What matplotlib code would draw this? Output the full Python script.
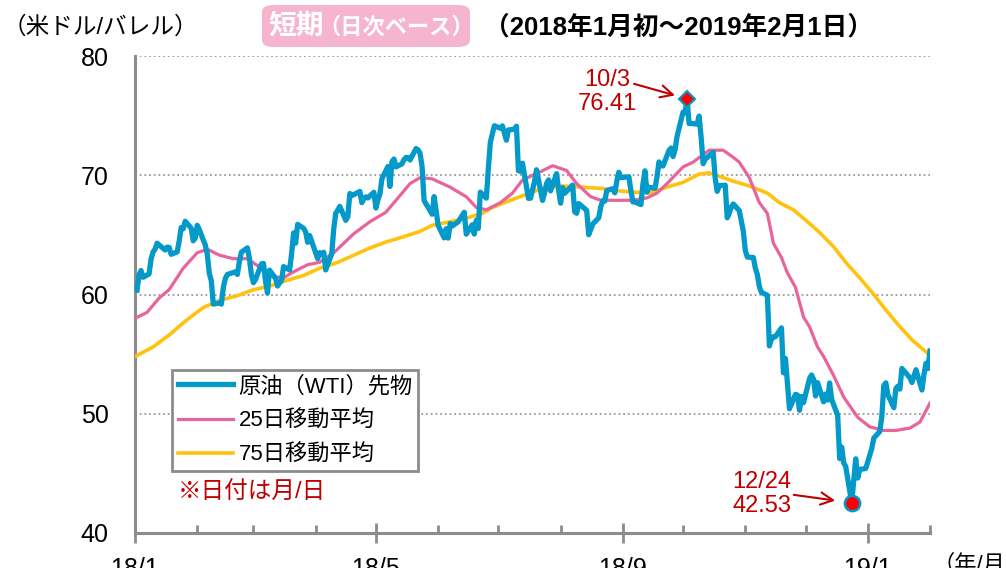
import matplotlib.pyplot as plt
import matplotlib.dates as mdates
from matplotlib.patches import FancyBboxPatch
from matplotlib.ticker import FuncFormatter
import pandas as pd

plt.rcParams['font.family'] = ['Liberation Sans', 'Noto Sans CJK JP']

# NYMEX trading days, Jan 2018 - Feb 1 2019
holidays = ["2018-01-15", "2018-02-19", "2018-03-30", "2018-05-28", "2018-07-04",
            "2018-09-03", "2018-11-22", "2018-12-25", "2019-01-01", "2019-01-21"]
wti_dates = pd.bdate_range("2018-01-02", "2019-02-01", freq="C", holidays=holidays)

wti = [
    # 2018/1
    60.37, 61.63, 62.01, 61.44, 61.73, 62.96, 63.57, 63.80, 64.30, 63.73, 63.97,
    63.95, 63.37, 63.57, 64.47, 65.61, 65.51, 66.14, 65.56, 64.50, 64.73,
    # 2018/2
    65.80, 65.45, 64.15, 63.39, 61.79, 61.15, 59.20, 59.29, 59.19, 60.60, 61.34,
    61.68, 61.90, 61.68, 62.77, 63.55, 63.91, 63.01, 61.64,
    # 2018/3
    60.99, 61.25, 62.57, 62.60, 61.15, 60.12, 62.04, 61.36, 60.71, 60.96, 61.19,
    62.34, 62.06, 63.40, 65.17, 64.30, 65.88, 65.55, 65.25, 64.38, 64.94,
    # 2018/4
    63.01, 63.51, 63.37, 63.54, 62.06, 63.42, 65.51, 66.82, 67.07, 67.39, 66.22,
    66.52, 68.47, 68.29, 68.38, 68.64, 67.70, 68.05, 68.19, 68.10, 68.57,
    # 2018/5
    67.25, 67.93, 68.43, 69.72, 70.73, 69.06, 71.14, 71.36, 70.70, 70.96, 71.31,
    71.49, 71.49, 71.28, 72.24, 72.13, 71.84, 70.71, 67.88, 66.73, 68.21, 67.04,
    # 2018/6
    65.81, 64.75, 65.52, 64.73, 65.95, 65.74, 66.10, 66.36, 66.64, 66.89, 65.06,
    65.85, 65.07, 66.22, 65.54, 68.58, 68.08, 70.53, 72.76, 73.45, 74.15,
    # 2018/7
    73.94, 74.14, 72.94, 73.80, 73.85, 74.11, 70.38, 70.33, 71.01, 68.06, 68.08,
    68.76, 69.46, 70.46, 67.89, 68.52, 69.30, 69.61, 68.69, 70.13, 68.76,
    # 2018/8
    67.66, 68.96, 68.49, 69.01, 69.17, 66.94, 66.81, 67.63, 67.20, 67.04, 65.01,
    65.46, 65.91, 66.43, 67.35, 67.86, 67.83, 68.72, 68.87, 68.53, 69.51, 70.25, 69.80,
    # 2018/9
    69.87, 68.72, 67.77, 67.75, 67.54, 69.25, 70.37, 68.59, 68.99, 68.91, 69.85,
    71.12, 70.80, 70.78, 72.08, 72.28, 71.57, 72.12, 73.25,
    # 2018/10
    75.30, 75.23, 76.41, 74.33, 74.34, 74.29, 74.96, 73.17, 70.97, 71.34, 71.78,
    71.92, 69.75, 68.65, 69.12, 69.17, 66.43, 66.82, 67.33, 67.59, 67.04, 66.18, 65.31,
    # 2018/11
    63.69, 63.14, 63.10, 62.21, 61.67, 60.67, 60.19, 59.93, 55.69, 56.25, 56.46,
    56.46, 57.20, 53.43, 54.63, 50.42, 51.63, 51.56, 50.29, 51.45, 50.93,
    # 2018/12
    52.95, 53.25, 52.89, 51.49, 52.61, 51.00, 51.65, 51.15, 52.58, 51.20, 49.88,
    46.24, 47.20, 45.88, 45.59, 42.53, 46.22, 44.61, 45.33, 45.41,
    # 2019/1 - 2/1
    46.54, 47.09, 47.96, 48.52, 49.78, 52.36, 52.59, 51.59, 50.51, 52.11, 52.31,
    52.07, 53.80, 53.01, 52.62, 53.13, 53.69, 51.99, 53.31, 54.23, 53.79, 55.26,
]
assert len(wti) == len(wti_dates)

# moving averages, sampled by days since 2018-01-01
ma25_day = [0, 6, 12, 17, 24, 31, 36, 42, 49, 56, 62, 69, 74, 79, 86, 92, 99, 109,
            117, 125, 132, 137, 142, 148, 157, 165, 170, 175, 182, 188, 193, 202,
            208, 215, 220, 227, 232, 240, 248, 255, 260, 265, 273, 278, 286, 293,
            298, 301, 306, 311, 315, 318, 322, 325, 329, 333, 336, 340, 343, 348,
            353, 360, 366, 373, 379, 386, 391, 396]
ma25 = [58.0, 58.5, 59.7, 60.4, 62.2, 63.5, 63.8, 63.3, 63.0, 63.0, 62.3, 61.5,
        61.4, 61.9, 62.5, 62.7, 63.5, 65.1, 66.1, 66.9, 68.3, 69.3, 69.8, 69.7,
        69.0, 68.2, 67.3, 67.1, 67.7, 68.5, 69.6, 70.3, 70.8, 70.4, 69.3, 68.2,
        67.9, 67.9, 67.9, 68.1, 68.5, 69.3, 70.7, 71.1, 72.1, 72.1, 71.5, 71.1,
        69.8, 67.7, 66.8, 64.3, 63.1, 61.8, 60.6, 58.1, 57.3, 55.6, 54.8, 53.2,
        51.4, 49.7, 48.9, 48.6, 48.6, 48.8, 49.3, 50.9]

ma75_day = [0, 9, 17, 26, 34, 42, 51, 59, 67, 76, 84, 92, 101, 109, 117, 125, 133,
            142, 148, 157, 165, 173, 178, 187, 195, 203, 213, 223, 232, 240, 248,
            256, 265, 273, 281, 286, 293, 298, 306, 315, 321, 328, 335, 341, 348,
            355, 361, 368, 374, 381, 387, 396]
ma75 = [54.8, 55.6, 56.6, 57.9, 58.9, 59.5, 59.9, 60.4, 60.7, 61.2, 61.6, 62.2,
        62.7, 63.3, 63.9, 64.4, 64.8, 65.3, 65.8, 66.1, 66.4, 66.8, 67.3, 67.9,
        68.4, 68.9, 69.1, 69.0, 68.9, 68.7, 68.6, 68.5, 69.0, 69.4, 70.1, 70.2,
        69.8, 69.5, 69.1, 68.5, 67.7, 67.1, 66.1, 65.2, 64.0, 62.5, 61.4, 60.0,
        58.7, 57.3, 56.2, 54.9]

start = pd.Timestamp("2018-01-01")
ma25_dates = start + pd.to_timedelta(ma25_day, unit="D")
ma75_dates = start + pd.to_timedelta(ma75_day, unit="D")

peak = (pd.Timestamp("2018-10-03"), 76.41)
low = (pd.Timestamp("2018-12-24"), 42.53)

blue = "#0399C8"
pink = "#E8649C"
yellow = "#FFC20E"
red = "#C00000"
gray = "#8C8C8C"

fig = plt.figure(figsize=(10.06, 5.68), dpi=100)
ax = fig.add_axes([135 / 1006, 35 / 568, 795 / 1006, 477 / 568])

l3, = ax.plot(ma75_dates, ma75, color=yellow, lw=2.6, label="75日移動平均", zorder=3)
l2, = ax.plot(ma25_dates, ma25, color=pink, lw=2.3, label="25日移動平均", zorder=4)
l1, = ax.plot(wti_dates, wti, color=blue, lw=3.8, label="原油（WTI）先物", zorder=5)

ax.plot(*peak, marker="D", ms=8, mfc="red", mec=blue, mew=1.5, zorder=6)
ax.plot(*low, marker="o", ms=11, mfc="red", mec=blue, mew=1.8, zorder=6)

ax.set_xlim(pd.Timestamp("2018-01-01"), pd.Timestamp("2019-02-01"))
ax.set_ylim(40, 80)
ax.set_yticks([40, 50, 60, 70, 80])
ax.tick_params(axis="y", length=0, pad=19, labelsize=18)
ax.yaxis.grid(True, linestyle=(0, (1, 1.6)), color="#9A9A9A", lw=1.3)

ax.xaxis.set_major_locator(mdates.MonthLocator(bymonth=[1, 5, 9]))
ax.xaxis.set_minor_locator(mdates.MonthLocator())
ax.xaxis.set_major_formatter(FuncFormatter(
    lambda v, pos: "{}/{}".format(mdates.num2date(v).year % 100, mdates.num2date(v).month)))
ax.tick_params(axis="x", which="major", direction="inout", length=14, width=2,
               color=gray, labelsize=18, pad=10)
ax.tick_params(axis="x", which="minor", direction="in", length=6, width=2, color=gray)

for s in ["top", "right"]:
    ax.spines[s].set_visible(False)
for s in ["left", "bottom"]:
    ax.spines[s].set_color(gray)
    ax.spines[s].set_linewidth(2.2)

leg = ax.legend(handles=[l1, l2, l3], loc="upper left",
                bbox_to_anchor=(172 / 1006, 1 - 370 / 568), bbox_transform=fig.transFigure,
                borderaxespad=0, fontsize=16, handlelength=2.5, handletextpad=0.25,
                labelspacing=0.6, fancybox=False, framealpha=1, borderpad=0.25)
leg.get_frame().set_edgecolor(gray)
leg.get_frame().set_linewidth(2)

ax.text(178 / 1006, 1 - 493 / 568, "※日付は月/日", transform=fig.transFigure,
        color=red, fontsize=17, va="center", ha="left")

# peak / trough labels
ax.annotate("10/3\n76.41", xy=peak, xytext=(-80, 7), textcoords="offset pixels",
            ha="center", va="center", color=red, fontsize=17, linespacing=1.1)
ax.annotate("", xy=peak, xytext=(-53, 15), textcoords="offset pixels",
            arrowprops=dict(arrowstyle="->", color=red, lw=1.5, shrinkA=0, shrinkB=9,
                            mutation_scale=22))
ax.annotate("12/24\n42.53", xy=low, xytext=(-90, 9), textcoords="offset pixels",
            ha="center", va="center", color=red, fontsize=17, linespacing=1.1)
ax.annotate("", xy=low, xytext=(-58, 8), textcoords="offset pixels",
            arrowprops=dict(arrowstyle="->", color=red, lw=1.5, shrinkA=0, shrinkB=12,
                            mutation_scale=22))

# header
fig.text(3 / 1006, 1 - 27 / 568, "（米ドル/バレル）", fontsize=17, va="center", ha="left")
box = FancyBboxPatch((262 / 1006, 1 - 47 / 568), 208 / 1006, 42 / 568,
                     boxstyle="round,pad=0,rounding_size=0.012", transform=fig.transFigure,
                     facecolor="#F5B5CF", edgecolor="none")
fig.patches.append(box)
fig.text(268 / 1006, 1 - 27 / 568, "短期", fontsize=20, fontweight="bold",
         color="white", va="center", ha="left")
fig.text(318 / 1006, 1 - 28 / 568, "（日次ベース）", fontsize=16, fontweight="bold",
         color="white", va="center", ha="left")
fig.text(484 / 1006, 1 - 27 / 568, "（2018年1月初～2019年2月1日）", fontsize=18.5,
         fontweight="bold", va="center", ha="left")
fig.text(932 / 1006, 1 - 565 / 568, "（年/月）", fontsize=16, va="center", ha="left")

fig.savefig("out.png", dpi=100)
